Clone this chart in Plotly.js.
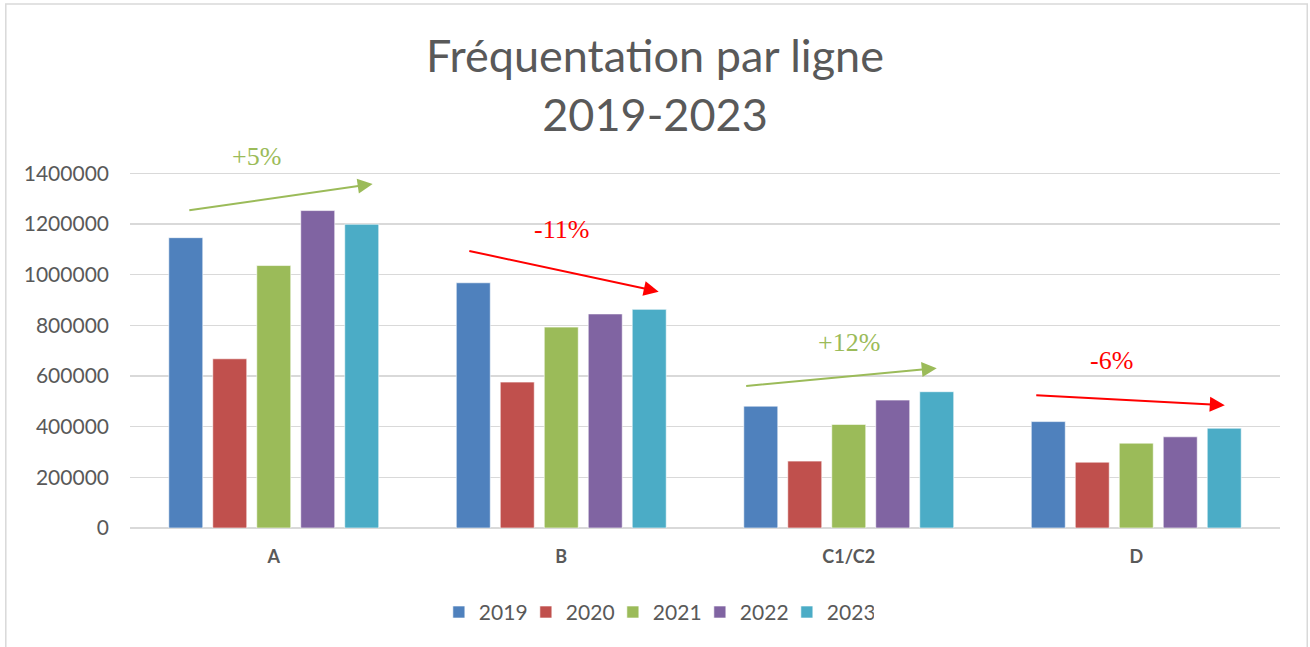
<!DOCTYPE html>
<html>
<head>
<meta charset="utf-8">
<script src="https://cdn.plot.ly/plotly-3.0.1.min.js"></script>
<style>html,body{margin:0;padding:0;background:#fff;}#chart{width:1310px;height:647px;}</style>
</head>
<body>
<div id="chart"></div>
<script>
const categories = ['A', 'B', 'C1/C2', 'D'];
const years = ['2019', '2020', '2021', '2022', '2023'];
const v2019 = [1146000, 968000, 481000, 420000];
const v2020 = [668000, 576000, 264000, 260000];
const v2021 = [1036000, 793000, 409000, 335000];
const v2022 = [1253000, 845000, 505000, 360000];
const v2023 = [1199000, 863000, 538000, 394000];
const yTicks = [0, 200000, 400000, 600000, 800000, 1000000, 1200000, 1400000];
const trendLabels = ['+5%', '-11%', '+12%', '-6%'];

const seriesValues = [v2019, v2020, v2021, v2022, v2023];
const colors = ['#4F81BD', '#C0504D', '#9BBB59', '#8064A2', '#4BACC6'];

const traces = years.map((yr, i) => ({
  type: 'bar',
  name: yr,
  x: categories,
  y: seriesValues[i],
  marker: {color: colors[i], line: {color: 'rgba(255,255,255,0.6)', width: 1}},
  hoverinfo: 'x+y+name'
}));

const green = '#9BBB59', red = '#FF0000';
const arrowDefs = [
  {x0: -0.299, y0: 1253000, x1: 0.344, y1: 1358000, c: green},
  {x0: 0.675, y0: 1095000, x1: 1.339, y1: 933000, c: red},
  {x0: 1.638, y0: 560000, x1: 2.306, y1: 631000, c: green},
  {x0: 2.647, y0: 524000, x1: 3.308, y1: 485000, c: red}
];
const labelPos = [
  {x: -0.059, y: 1465000, c: green},
  {x: 1.002, y: 1180000, c: red},
  {x: 2.0, y: 734000, c: green},
  {x: 2.915, y: 663000, c: red}
];

const annotations = [];
arrowDefs.forEach(a => annotations.push({
  x: a.x1, y: a.y1, ax: a.x0, ay: a.y0, xref: 'x', yref: 'y', axref: 'x', ayref: 'y',
  text: '', showarrow: true, arrowhead: 2, arrowsize: 1.5, arrowwidth: 2, arrowcolor: a.c, standoff: 0
}));
labelPos.forEach((p, i) => annotations.push({
  x: p.x, y: p.y, xref: 'x', yref: 'y', text: trendLabels[i], showarrow: false,
  font: {family: 'Liberation Serif, serif', size: 26, color: p.c}
}));

const layout = {
  width: 1310, height: 647,
  margin: {l: 130, r: 30, t: 148, b: 119, autoexpand: false},
  paper_bgcolor: '#ffffff', plot_bgcolor: '#ffffff',
  title: {
    text: 'Fréquentation par ligne<br>2019-2023',
    x: 0.5, xref: 'container', xanchor: 'center', y: 0.888, yref: 'container', yanchor: 'middle',
    font: {family: 'Lato, sans-serif', size: 45, color: '#595959'}
  },
  barmode: 'group', bargap: 0.235, bargroupgap: 0.227,
  xaxis: {
    type: 'category', showgrid: false, zeroline: false, showline: false, ticks: '',
    ticklabelstandoff: 16,
    tickfont: {family: 'Lato, sans-serif', size: 18, color: '#595959', weight: 'bold'}
  },
  yaxis: {
    range: [0, 1500000], tickvals: yTicks, ticktext: yTicks.map(String),
    showgrid: true, gridcolor: '#d9d9d9', gridwidth: 1.5,
    zeroline: true, zerolinecolor: '#d9d9d9', zerolinewidth: 1.5,
    showline: false, ticks: '', ticklabelstandoff: 20,
    tickfont: {family: 'Lato, sans-serif', size: 21, color: '#595959'}
  },
  legend: {
    orientation: 'h', x: 0.4577, xanchor: 'center', y: -0.222, yanchor: 'middle',
    font: {family: 'Lato, sans-serif', size: 21, color: '#595959'},
    itemwidth: 30, traceorder: 'normal', entrywidth: 42, entrywidthmode: 'pixels'
  },
  annotations: annotations,
  shapes: [{
    type: 'rect', xref: 'paper', yref: 'paper',
    x0: -0.108, x1: 1.0237, y0: -0.4, y1: 1.3787,
    line: {color: '#d9d9d9', width: 1.5}, fillcolor: 'rgba(0,0,0,0)', layer: 'below'
  }],
  showlegend: true
};

Plotly.newPlot('chart', traces, layout, {displayModeBar: false, staticPlot: true});
</script>
</body>
</html>
